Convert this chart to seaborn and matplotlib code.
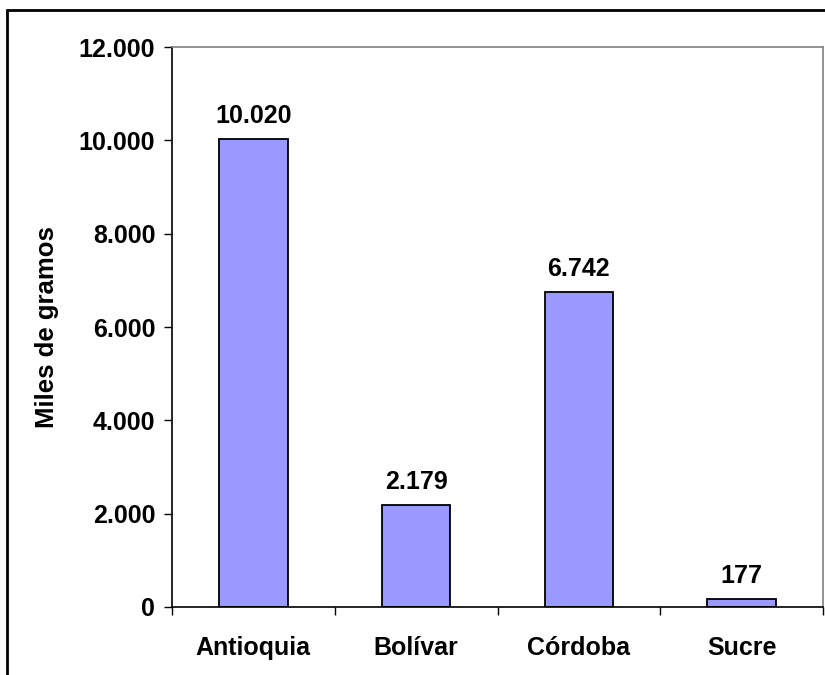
import matplotlib
matplotlib.use("Agg")
import matplotlib.pyplot as plt
import seaborn as sns
import pandas as pd
from matplotlib.patches import Rectangle
from matplotlib.ticker import FuncFormatter, MultipleLocator

categories = ["Antioquia", "Bolívar", "Córdoba", "Sucre"]
values = [10020, 2179, 6742, 177]
value_labels = ["10.020", "2.179", "6.742", "177"]

sns.set_theme(style="white")
plt.rcParams["font.family"] = ["Liberation Sans", "DejaVu Sans"]
plt.rcParams["font.weight"] = "bold"
plt.rcParams["text.color"] = "black"
plt.rcParams["axes.labelcolor"] = "black"
plt.rcParams["xtick.color"] = "black"
plt.rcParams["ytick.color"] = "black"

df = pd.DataFrame({"dep": categories, "val": values})

W, H = 825, 675
FS = 18
fig = plt.figure(figsize=(W / 100, H / 100), dpi=100)
ax = fig.add_axes([172 / W, 1 - 607 / H, (823 - 172) / W, (607 - 47) / H])

sns.barplot(data=df, x="dep", y="val", color="#9999FF", edgecolor="black",
            linewidth=1.3, width=0.42, saturation=1, ax=ax)

ax.set_xlim(-0.5, 3.5)
ax.set_ylim(0, 12000)
ax.yaxis.set_major_locator(MultipleLocator(2000))
ax.yaxis.set_major_formatter(FuncFormatter(lambda v, p: f"{int(v):,}".replace(",", ".")))

for i, (v, lab) in enumerate(zip(values, value_labels)):
    ax.annotate(lab, (i, v), xytext=(0, 8), textcoords="offset points",
                ha="center", va="bottom", fontsize=FS, fontweight="bold", color="black")

ax.set_xlabel("")
ax.set_ylabel("Miles de gramos", fontsize=FS + 0.5, fontweight="bold", color="black", labelpad=14)

ax.set_xticks([0, 1, 2, 3])
ax.set_xticklabels(categories, fontsize=FS, fontweight="bold", color="black")
ax.set_xticks([-0.5, 0.5, 1.5, 2.5, 3.5], minor=True)
ax.tick_params(axis="x", which="major", length=0, pad=21)
ax.tick_params(axis="x", which="minor", length=6, width=1, color="black", direction="out", bottom=True)
ax.tick_params(axis="y", which="major", length=6, width=1, color="black", direction="out",
               left=True, labelsize=FS, pad=6, labelcolor="black")
for t in ax.get_yticklabels():
    t.set_fontweight("bold")

for s in ["left", "bottom"]:
    ax.spines[s].set_color("black")
    ax.spines[s].set_linewidth(1.2)
for s in ["top", "right"]:
    ax.spines[s].set_color("#808080")
    ax.spines[s].set_linewidth(1.2)
    ax.spines[s].set_visible(True)
ax.grid(False)

fig.patches.append(Rectangle((7 / W, -0.1), 1.2, 1 - 10 / H + 0.1,
                             transform=fig.transFigure, fill=False,
                             edgecolor="black", linewidth=2))

fig.savefig("out.png", dpi=100)
